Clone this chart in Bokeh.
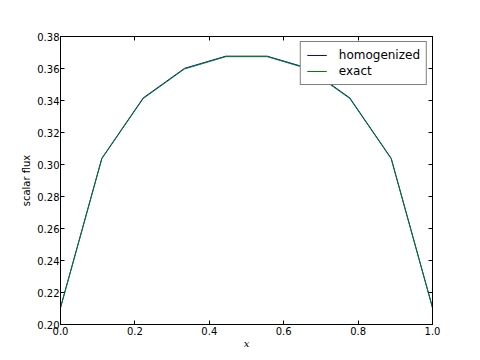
from bokeh.plotting import figure
from bokeh.models import Range1d, LinearAxis, FixedTicker, PrintfTickFormatter, Legend, LegendItem
from bokeh.embed import file_html
from bokeh.resources import INLINE

x = [0.0, 1/9, 2/9, 3/9, 4/9, 5/9, 6/9, 7/9, 8/9, 1.0]
homogenized = [0.2106, 0.3039, 0.3416, 0.3601, 0.3677, 0.3677, 0.3601, 0.3416, 0.3039, 0.2106]
exact = [0.2104, 0.3036, 0.3412, 0.3597, 0.3674, 0.3674, 0.3597, 0.3412, 0.3036, 0.2104]
xticks = [0.0, 0.2, 0.4, 0.6, 0.8, 1.0]
yticks = [0.20, 0.22, 0.24, 0.26, 0.28, 0.30, 0.32, 0.34, 0.36, 0.38]

p = figure(width=472, height=356, output_backend="svg", toolbar_location=None,
           x_range=Range1d(0, 1), y_range=Range1d(0.20, 0.38),
           min_border_left=60, min_border_right=40, min_border_top=36, min_border_bottom=32)
p.grid.visible = False
p.outline_line_color = "black"
p.outline_line_width = 1
p.background_fill_color = "white"
p.border_fill_color = "white"

r1 = p.line(x, homogenized, line_color="#0000ff", line_width=1)
r2 = p.line(x, exact, line_color="#008000", line_width=1)

def style(ax, labels=True):
    ax.major_tick_in = 4
    ax.major_tick_out = 0
    ax.minor_tick_line_color = None
    ax.axis_line_color = "black"
    ax.major_tick_line_color = "black"
    ax.major_label_text_font = "DejaVu Sans"
    ax.major_label_text_font_size = "10px"
    ax.major_label_text_color = "black"
    ax.major_label_standoff = 2
    ax.axis_label_text_color = "black"
    if not labels:
        ax.major_label_text_font_size = "0px"
        ax.major_label_text_alpha = 0

xa = p.xaxis[0]
ya = p.yaxis[0]
xa.ticker = FixedTicker(ticks=xticks)
ya.ticker = FixedTicker(ticks=yticks)
xa.formatter = PrintfTickFormatter(format="%.1f")
ya.formatter = PrintfTickFormatter(format="%.2f")
style(xa)
style(ya)
ya.major_label_standoff = 1
xa.axis_label = "x"
xa.axis_label_text_font = "DejaVu Serif"
xa.axis_label_text_font_style = "italic"
xa.axis_label_text_font_size = "10px"
xa.axis_label_standoff = 0
ya.axis_label = "scalar flux"
ya.axis_label_text_font = "DejaVu Sans"
ya.axis_label_text_font_style = "normal"
ya.axis_label_text_font_size = "10px"
ya.axis_label_standoff = 2

top = LinearAxis(ticker=FixedTicker(ticks=xticks), major_label_overrides={t: "" for t in xticks})
right = LinearAxis(ticker=FixedTicker(ticks=yticks), major_label_overrides={t: "" for t in yticks})
style(top, labels=False)
style(right, labels=False)
p.add_layout(top, "above")
p.add_layout(right, "right")

legend = Legend(items=[LegendItem(label="homogenized", renderers=[r1]),
                       LegendItem(label="exact", renderers=[r2])],
                location="top_right")
legend.margin = 5
legend.padding = 6
legend.spacing = 2
legend.label_standoff = 12
legend.glyph_width = 20
legend.glyph_height = 14
legend.label_text_font = "DejaVu Sans"
legend.label_text_font_size = "12px"
legend.label_text_color = "black"
legend.label_height = 14
legend.border_line_color = "black"
legend.border_line_width = 1
legend.background_fill_alpha = 1
p.add_layout(legend)

open("out.html", "w").write(file_html(p, INLINE))
